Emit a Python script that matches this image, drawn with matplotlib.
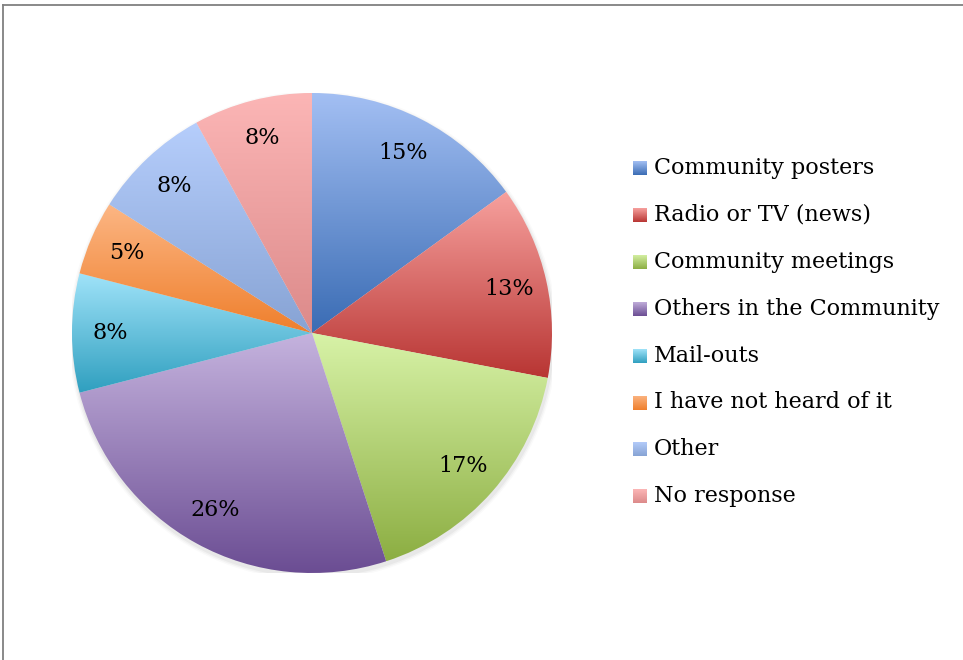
import numpy as np
import matplotlib
matplotlib.use("Agg")
import matplotlib.pyplot as plt
from matplotlib.colors import LinearSegmentedColormap
from matplotlib.lines import Line2D

# survey answers: how people heard about it
labels = ["Community posters", "Radio or TV (news)", "Community meetings",
          "Others in the Community", "Mail-outs", "I have not heard of it",
          "Other", "No response"]
shares = [15, 13, 17, 26, 8, 5, 8, 8]

# light (top) / dark (bottom) colour of each slice gradient
tops = ["#a3bff3", "#f7a19e", "#d8f3a8", "#c5b3de", "#a0e3f9", "#fcb684", "#b6cefc", "#fcb6b6"]
bottoms = ["#3a6cb4", "#b83533", "#8cae42", "#6b4d93", "#2f9fbf", "#ef7f2c", "#87a3d4", "#dc8a8a"]

font = ["DejaVu Serif"]
fsize = 16

W, H = 963, 660
fig = plt.figure(figsize=(W / 100, H / 100), dpi=100)

# pie axes: centre (312, 333) px, radius 240 px
cx, cy, r = 312, 333, 240
ax = fig.add_axes([(cx - r) / W, (H - cy - r) / H, 2 * r / W, 2 * r / H])
ax.axis("off")

# soft shadow under the pie
for k, a in enumerate([0.04, 0.03, 0.02]):
    ax.add_patch(plt.Circle((0.004, -0.012), 1.0 + 0.006 * (k + 1), color="k",
                            alpha=a, lw=0, zorder=0))

wedges, texts = ax.pie(shares, startangle=90, counterclock=False, radius=1,
                       labels=[f"{v}%" for v in shares], labeldistance=0.84,
                       wedgeprops=dict(linewidth=0),
                       textprops=dict(fontsize=fsize, family=font, color="black"))
for t in texts:
    t.set_ha("center")
    t.set_va("center")
    t.set_zorder(3)

grad = np.linspace(0, 1, 256).reshape(-1, 1)
for w, c0, c1 in zip(wedges, tops, bottoms):
    th = np.radians(np.linspace(w.theta1, w.theta2, 200))
    ys = np.concatenate([[0], np.sin(th)])
    cmap = LinearSegmentedColormap.from_list("g", [c0, c1])
    im = ax.imshow(grad, extent=[-1, 1, ys.min(), ys.max()], cmap=cmap,
                   origin="upper", aspect="auto", zorder=1, interpolation="bilinear")
    im.set_clip_path(w)
    w.set_facecolor("none")
    w.set_zorder(1)
ax.set_xlim(-1, 1)
ax.set_ylim(-1, 1)

# legend drawn by hand with gradient swatches
row0, step = 168, 46.9
for i, (lab, c0, c1) in enumerate(zip(labels, tops, bottoms)):
    y = row0 + i * step
    sw = fig.add_axes([633 / W, (H - y - 7) / H, 14 / W, 14 / H])
    sw.imshow(grad, cmap=LinearSegmentedColormap.from_list("g", [c0, c1]),
              aspect="auto", interpolation="bilinear")
    sw.axis("off")
    fig.text(654 / W, (H - y) / H, lab, fontsize=fsize, family=font,
             va="center", ha="left")

# frame edges along top and left
fig.add_artist(Line2D([3 / W, 3 / W], [0, (H - 5) / H], color="#808080", lw=1.3))
fig.add_artist(Line2D([3 / W, 1], [(H - 5) / H, (H - 5) / H], color="#808080", lw=1.3))

fig.savefig("out.png", dpi=100)
